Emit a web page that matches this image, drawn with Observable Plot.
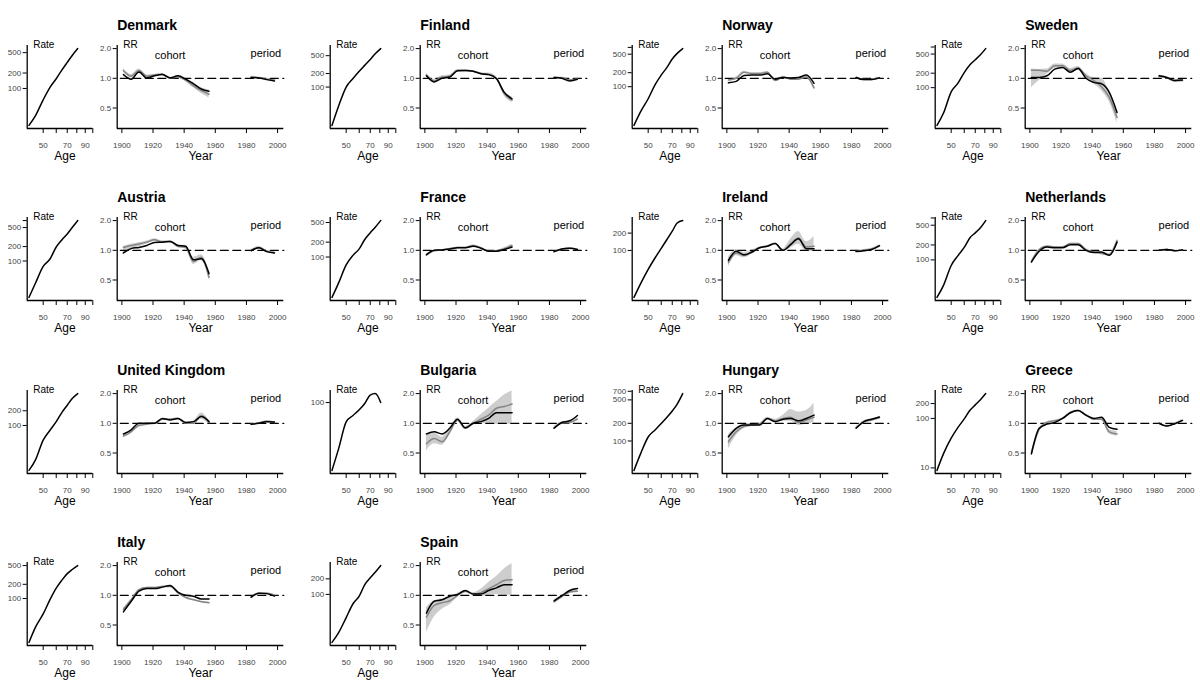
<!DOCTYPE html>
<html><head><meta charset="utf-8">
<script src="https://cdn.jsdelivr.net/npm/d3@7"></script>
<script src="https://cdn.jsdelivr.net/npm/@observablehq/plot@0.6"></script>
<style>
body{margin:0;background:#fff;font-family:"Liberation Sans",Arial,Helvetica,sans-serif;}
#chart{position:relative;width:1200px;height:700px;overflow:hidden;background:#fff;}
.cell{position:absolute;}
.cell svg{overflow:visible !important;background:transparent;max-width:none !important;}
</style></head><body><div id="chart"></div>
<script>
const countries = ["Denmark","Finland","Norway","Sweden","Austria","France","Ireland","Netherlands","United Kingdom","Bulgaria","Hungary","Greece","Italy","Spain"];
const ages = [41,45,50,55,60,65,70,75,81];
const rates = [
 [19,30,60,105,155,230,323,440,600],
 [14,38,100,155,225,308,412,550,720],
 [14.7,29,55,110,178,260,395,520,660],
 [16.4,30,82,124,206,300,380,478,650],
 [17.3,35,77,110,196,277,367,500,700],
 [15.2,30,69,108,146,229,309,400,547],
 [15.3,26.6,47,74,109,155,216,300,330],
 [17.5,31,77,122,178,280,350,440,620],
 [12,20,50,80,120,186,260,355,450],
 [12.2,24,55,67,80,98,126,132,100],
 [31.6,61,117,154,198,253,324,425,640],
 [8.9,19.7,40,66,98,146,188,236,318],
 [11.7,25,47,95,166,246,337,413,500],
 [11.8,18.3,35.6,66,93,156,209,269,361]
];
const rateTicks = [
 [100,200,500],[100,200,500],[100,200,500,700],[100,200,500,700],
 [100,200,500,700],[100,200,500],[100,200],[100,200,500,700],
 [100,200],[100],[100,200,500,700],[10,100,200],[100,200,500],[100,200]
];
const cohortYears = [1901,1906,1911,1916,1921,1926,1931,1936,1941,1946,1951,1956];
const periodYears = [1983,1988,1993,1998];
const cohortBlack = [
 [1.09,0.98,1.16,1.01,1.06,1.09,1.01,1.06,0.98,0.88,0.78,0.74],
 [1.06,0.92,1.0,1.03,1.19,1.2,1.18,1.11,1.09,0.99,0.72,0.62],
 [0.9,0.93,1.07,1.08,1.08,1.11,0.98,1.02,1.01,1.02,1.08,0.89],
 [1.02,1.02,1.06,1.24,1.29,1.15,1.26,1.0,0.91,0.88,0.72,0.45],
 [0.94,1.04,1.07,1.12,1.2,1.21,1.23,1.12,1.1,0.8,0.82,0.58],
 [0.9,1.0,1.01,1.03,1.06,1.06,1.1,1.05,0.98,0.98,1.02,1.08],
 [0.79,0.98,0.9,0.96,1.06,1.1,1.17,1.0,1.14,1.31,1.04,1.04],
 [0.76,0.98,1.08,1.06,1.06,1.14,1.14,1.0,0.95,0.96,0.89,1.21],
 [0.78,0.86,1.0,1.0,1.0,1.12,1.08,1.12,1.02,1.04,1.17,1.04],
 [0.78,0.82,0.78,0.89,1.1,0.9,1.0,1.04,1.12,1.28,1.28,1.28],
 [0.73,0.89,0.96,0.96,0.96,1.12,1.04,1.1,1.12,1.06,1.12,1.21],
 [0.49,0.89,0.98,1.02,1.12,1.28,1.35,1.21,1.12,1.15,0.91,0.87],
 [0.68,0.87,1.1,1.17,1.17,1.21,1.26,1.08,1.0,0.98,0.92,0.92],
 [0.66,0.87,0.9,0.98,1.02,1.12,1.03,1.03,1.12,1.19,1.28,1.28]
];
const cohortGray = [
 [1.2,1.05,1.2,1.05,1.08,1.1,1.01,1.03,0.96,0.84,0.75,0.69],
 [1.08,0.94,1.03,1.05,1.2,1.2,1.18,1.12,1.1,1.0,0.7,0.6],
 [0.96,1.0,1.15,1.12,1.12,1.15,0.95,1.03,0.98,0.98,1.03,0.8],
 [1.21,1.21,1.18,1.34,1.34,1.2,1.27,1.06,0.95,0.82,0.64,0.4],
 [1.07,1.12,1.16,1.21,1.28,1.21,1.23,1.1,1.07,0.77,0.85,0.53],
 [0.9,0.99,1.01,1.04,1.07,1.07,1.12,1.06,0.98,0.99,1.04,1.12],
 [0.75,0.94,0.89,0.95,1.06,1.1,1.17,1.0,1.17,1.33,1.08,1.1],
 [0.77,1.02,1.1,1.08,1.08,1.17,1.17,1.02,0.96,0.93,0.9,1.26],
 [0.74,0.82,0.95,0.98,1.0,1.1,1.1,1.12,1.0,1.0,1.19,1.02],
 [0.62,0.7,0.65,0.82,1.08,0.89,1.0,1.1,1.21,1.42,1.48,1.57],
 [0.65,0.82,0.93,0.96,0.98,1.12,1.06,1.12,1.15,1.02,1.08,1.15],
 [0.5,0.87,1.02,1.06,1.12,1.28,1.35,1.21,1.1,1.1,0.82,0.78],
 [0.72,0.9,1.14,1.2,1.2,1.23,1.23,1.06,0.95,0.9,0.86,0.84],
 [0.6,0.79,0.84,0.88,1.0,1.1,1.03,1.06,1.17,1.28,1.41,1.44]
];
const cohortLo = [
 [1.15,1.01,1.16,1.02,1.06,1.08,0.99,1.0,0.92,0.8,0.7,0.63],
 [1.04,0.9,1.0,1.02,1.17,1.18,1.16,1.1,1.07,0.97,0.66,0.57],
 [0.93,0.97,1.12,1.1,1.1,1.13,0.93,1.01,0.96,0.96,1.0,0.76],
 [0.8,0.95,1.1,1.25,1.28,1.14,1.2,1.0,0.88,0.75,0.58,0.35],
 [0.9,1.02,1.08,1.15,1.22,1.18,1.2,1.06,1.03,0.72,0.79,0.5],
 [0.88,0.98,1.0,1.03,1.06,1.06,1.1,1.05,0.97,0.98,1.02,1.09],
 [0.68,0.88,0.84,0.91,1.04,1.09,1.16,0.98,1.05,1.15,0.97,0.97],
 [0.75,1.0,1.08,1.07,1.07,1.15,1.15,1.0,0.94,0.91,0.87,1.2],
 [0.72,0.8,0.94,0.97,0.99,1.09,1.09,1.1,0.98,0.97,1.1,0.97],
 [0.52,0.62,0.6,0.76,1.03,0.86,0.96,0.98,1.0,0.98,0.98,0.98],
 [0.55,0.75,0.88,0.93,0.95,1.08,1.02,1.05,1.05,0.95,0.98,1.02],
 [0.48,0.85,1.0,1.04,1.1,1.26,1.33,1.19,1.07,1.07,0.78,0.74],
 [0.7,0.89,1.13,1.19,1.19,1.22,1.22,1.05,0.94,0.89,0.85,0.83],
 [0.42,0.6,0.72,0.8,0.95,1.06,1.0,0.97,1.0,1.02,1.0,1.0]
];
const cohortHi = [
 [1.25,1.09,1.24,1.08,1.1,1.12,1.03,1.06,1.0,0.89,0.8,0.76],
 [1.12,0.98,1.06,1.08,1.23,1.22,1.2,1.14,1.13,1.03,0.75,0.65],
 [0.99,1.03,1.18,1.14,1.14,1.17,0.97,1.05,1.0,1.0,1.06,0.84],
 [1.24,1.23,1.24,1.4,1.4,1.26,1.32,1.12,1.02,1.0,0.74,0.46],
 [1.1,1.15,1.19,1.24,1.31,1.25,1.26,1.14,1.12,0.85,0.9,0.62],
 [0.92,1.01,1.02,1.05,1.08,1.08,1.13,1.07,0.99,1.0,1.06,1.15],
 [0.85,1.02,0.95,1.0,1.08,1.12,1.19,1.03,1.3,1.55,1.22,1.38],
 [0.79,1.03,1.11,1.09,1.09,1.18,1.18,1.04,0.98,0.96,0.93,1.3],
 [0.76,0.84,0.97,0.99,1.01,1.11,1.11,1.14,1.03,1.05,1.27,1.08],
 [0.75,0.8,0.72,0.9,1.13,0.93,1.04,1.22,1.42,1.66,1.94,2.12],
 [0.77,0.9,0.98,1.0,1.01,1.15,1.1,1.2,1.38,1.3,1.35,1.6],
 [0.52,0.9,1.04,1.08,1.14,1.3,1.37,1.24,1.14,1.14,0.86,0.83],
 [0.74,0.91,1.15,1.21,1.21,1.24,1.25,1.07,0.96,0.91,0.87,0.86],
 [0.75,0.88,0.92,0.95,1.05,1.12,1.06,1.15,1.35,1.55,1.85,2.1]
];
const periodBlack = [
 [1.02,1.01,0.97,0.94],[1.02,1.0,0.94,0.98],[1.02,0.97,0.97,1.01],[1.06,1.02,0.95,0.96],
 [0.99,1.06,0.97,0.94],[0.97,1.03,1.05,1.02],[0.97,0.99,1.02,1.11],[1.0,1.02,0.99,1.01],
 [0.98,1.0,1.04,1.03],[0.89,1.02,1.06,1.2],[0.89,1.04,1.1,1.16],[1.0,0.94,0.99,1.07],
 [0.96,1.05,1.04,0.98],[0.88,0.99,1.12,1.17]
];
const periodGray = [
 [1.03,1.01,0.98,0.96],[1.02,1.01,0.96,0.99],[1.02,0.97,0.97,1.01],[1.04,1.01,0.94,0.95],
 [1.0,1.07,0.98,0.95],[0.97,1.03,1.05,1.02],[0.98,1.0,1.03,1.12],[1.0,1.02,0.99,1.01],
 [0.98,1.01,1.05,1.02],[0.9,1.01,1.02,1.1],[0.9,1.03,1.08,1.14],[1.0,0.94,0.99,1.07],
 [0.95,1.05,1.05,1.0],[0.86,0.97,1.08,1.1]
];
const periodLo = [
 [1.0,0.99,0.96,0.93],[1.0,0.99,0.94,0.97],[1.0,0.96,0.96,1.0],[1.02,0.99,0.92,0.93],
 [0.98,1.05,0.96,0.93],[0.96,1.02,1.04,1.01],[0.96,0.98,1.01,1.09],[0.99,1.01,0.98,1.0],
 [0.97,1.0,1.03,1.01],[0.87,0.98,0.99,1.06],[0.87,1.0,1.06,1.12],[0.98,0.92,0.97,1.05],
 [0.94,1.04,1.04,0.99],[0.84,0.95,1.05,1.07]
];
const periodHi = [
 [1.05,1.03,1.0,0.99],[1.04,1.03,0.98,1.01],[1.04,0.99,0.99,1.03],[1.08,1.04,0.97,0.98],
 [1.02,1.09,1.0,0.97],[0.98,1.04,1.06,1.03],[1.0,1.02,1.05,1.14],[1.01,1.03,1.0,1.02],
 [0.99,1.02,1.06,1.04],[0.93,1.04,1.06,1.15],[0.93,1.06,1.11,1.17],[1.02,0.96,1.01,1.09],
 [0.97,1.06,1.06,1.01],[0.9,1.0,1.12,1.16]
];
const ageTicks = [50,60,70,80,90,100];
const ageLabels = [50,70,90];
const yearTicks = [1900,1920,1940,1960,1980,2000];
const rrTicks = [0.5,1,2];

const FONT = '"Liberation Sans", Arial, Helvetica, sans-serif';
const colX = [0, 302.5, 605, 907.5];
const rowY = [0, 172, 345, 517];
const chart = document.getElementById("chart");
function place(svg, left, top, w, h) {
  const d = document.createElement("div");
  d.className = "cell";
  d.style.left = left + "px";
  d.style.top = top + "px";
  d.style.width = w + "px";
  d.style.height = h + "px";
  d.appendChild(svg);
  chart.appendChild(d);
}
const baseStyle = {fontFamily: FONT, fontSize: "8px", background: "transparent", overflow: "visible", color: "#111", maxWidth: "none"};
const AGE_DOM = [40, 100];
const YEAR_DOM = [1897, 2004];
const RR_DOM = [0.31, 2.15];

countries.forEach((name, i) => {
  const x0 = colX[i % 4], y0 = rowY[Math.floor(i / 4)];
  const r = rates[i];
  const lo = d3.min(r), hi = d3.max(r);
  const pad = Math.pow(hi / lo, 0.04);
  const rDom = [lo / pad, hi * pad];
  const rateData = ages.map((a, k) => ({age: a, rate: r[k]}));

  const agePlot = Plot.plot({
    width: 95, height: 172,
    marginLeft: 26.7, marginRight: 2.7, marginTop: 45, marginBottom: 44,
    style: baseStyle,
    x: {type: "log", domain: AGE_DOM},
    y: {type: "log", domain: rDom},
    marks: [
      Plot.ruleY([rDom[0]], {stroke: "#000", strokeWidth: 1.3}),
      Plot.ruleX([AGE_DOM[0]], {stroke: "#000", strokeWidth: 1.3}),
      Plot.axisX({ticks: ageTicks, tickFormat: d => ageLabels.includes(d) ? String(d) : "", tickSize: 5, tickPadding: 9, label: null, fill: "#444", stroke: "#000"}),
      Plot.axisY({ticks: rateTicks[i], tickFormat: d => String(d), tickSize: 4, tickPadding: 2, label: null, fill: "#444", stroke: "#000"}),
      Plot.line(rateData, {x: "age", y: "rate", stroke: "#000", strokeWidth: 1.5, curve: "monotone-x"}),
      Plot.text(["Rate"], {frameAnchor: "top-left", dx: 6, dy: -5, textAnchor: "start", fontSize: 10, fill: "#000"}),
      Plot.text(["Age"], {frameAnchor: "bottom", dx: 5, dy: 31, fontSize: 12, fill: "#000"})
    ]
  });
  place(agePlot, x0, y0, 95, 172);

  const cData = cohortYears.map((y, k) => ({year: y, black: cohortBlack[i][k], gray: cohortGray[i][k], lo: cohortLo[i][k], hi: cohortHi[i][k]}));
  const pData = periodYears.map((y, k) => ({year: y, black: periodBlack[i][k], gray: periodGray[i][k], lo: periodLo[i][k], hi: periodHi[i][k]}));
  const refLine = [{year: 1899, v: 1}, {year: YEAR_DOM[1], v: 1}];

  const rrPlot = Plot.plot({
    width: 200, height: 172,
    marginLeft: 21.7, marginRight: 11.7, marginTop: 45, marginBottom: 44,
    style: baseStyle,
    x: {domain: YEAR_DOM},
    y: {type: "log", domain: RR_DOM},
    marks: [
      Plot.areaY(cData, {x: "year", y1: "lo", y2: "hi", fill: "#cdcdcd", curve: "monotone-x"}),
      Plot.areaY(pData, {x: "year", y1: "lo", y2: "hi", fill: "#cdcdcd", curve: "monotone-x"}),
      Plot.line(refLine, {x: "year", y: "v", stroke: "#000", strokeWidth: 1.3, strokeDasharray: "8,4.5"}),
      Plot.line(cData, {x: "year", y: "gray", stroke: "#858585", strokeWidth: 1.5, curve: "monotone-x"}),
      Plot.line(pData, {x: "year", y: "gray", stroke: "#858585", strokeWidth: 1.5, curve: "monotone-x"}),
      Plot.line(cData, {x: "year", y: "black", stroke: "#000", strokeWidth: 1.5, curve: "monotone-x"}),
      Plot.line(pData, {x: "year", y: "black", stroke: "#000", strokeWidth: 1.5, curve: "monotone-x"}),
      Plot.ruleY([RR_DOM[0]], {stroke: "#000", strokeWidth: 1.3}),
      Plot.ruleX([YEAR_DOM[0]], {stroke: "#000", strokeWidth: 1.3}),
      Plot.axisX({ticks: yearTicks, tickFormat: d => String(d), tickSize: 5, tickPadding: 9, label: null, fill: "#444", stroke: "#000"}),
      Plot.axisY({ticks: rrTicks, tickFormat: d3.format(".1f"), tickSize: 4, tickPadding: 2, label: null, fill: "#444", stroke: "#000"}),
      Plot.text(["RR"], {frameAnchor: "top-left", dx: 6, dy: -5, textAnchor: "start", fontSize: 10, fill: "#000"}),
      Plot.text(["Year"], {frameAnchor: "bottom", dy: 31, fontSize: 12, fill: "#000"}),
      Plot.text(["cohort"], {x: () => 1931, y: () => 1.72, fontSize: 11, fill: "#000"}),
      Plot.text(["period"], {x: () => 1992.5, y: () => 1.78, fontSize: 11, fill: "#000"}),
      Plot.text([name], {frameAnchor: "top-left", dy: -25, textAnchor: "start", fontSize: 14, fontWeight: "bold", fill: "#000"})
    ]
  });
  place(rrPlot, x0 + 95, y0, 200, 172);
});
</script></body></html>
